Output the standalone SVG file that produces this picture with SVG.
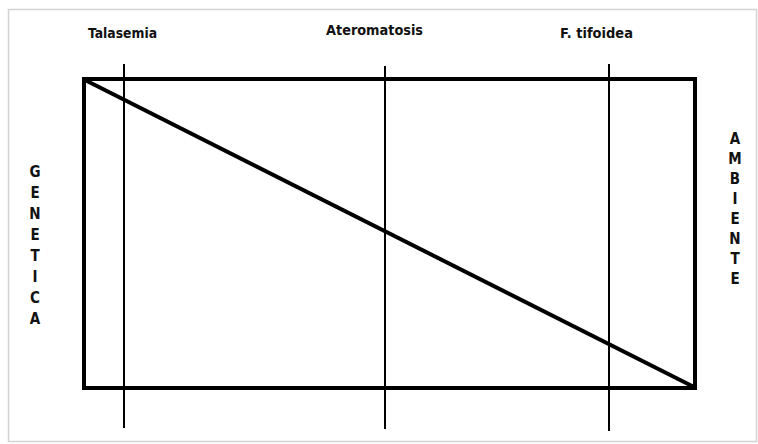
<svg xmlns="http://www.w3.org/2000/svg" width="758" height="444" viewBox="0 0 758 444">
<style>
.lbl{font-family:"DejaVu Sans Condensed","Liberation Sans",sans-serif;font-weight:bold;fill:#111;}
.vl{font-family:"DejaVu Sans Condensed","Liberation Sans",sans-serif;font-weight:bold;font-size:15px;fill:#111;text-anchor:middle;}
.thick{stroke:#000;stroke-width:4;fill:none;}
.thin{stroke:#000;stroke-width:2;fill:none;}
</style>
<rect width="758" height="444" fill="#fff"/>
<rect x="8.5" y="9.5" width="748" height="432" fill="none" stroke="#d4d4d4" stroke-width="1.5"/>
<g id="frame">
<rect class="thick" x="84" y="79" width="611" height="309"/>
</g>
<g id="connectors">
<line class="thick" x1="85" y1="80" x2="694" y2="387"/>
<line class="thin" x1="124" y1="64" x2="124" y2="428"/>
<line class="thin" x1="385" y1="66" x2="385" y2="429"/>
<line class="thin" x1="609" y1="64" x2="609" y2="431"/>
</g>
<g id="label-talasemia"><text class="lbl" x="88" y="38" font-size="14" textLength="69" lengthAdjust="spacingAndGlyphs">Talasemia</text></g>
<g id="label-ateromatosis"><text class="lbl" x="326" y="35" font-size="14" textLength="97" lengthAdjust="spacingAndGlyphs">Ateromatosis</text></g>
<g id="label-tifoidea"><text class="lbl" x="560" y="38" font-size="14" textLength="73" lengthAdjust="spacingAndGlyphs">F. tifoidea</text></g>
<g id="label-genetica">
<text class="vl" x="35" y="177">G</text>
<text class="vl" x="35" y="198">E</text>
<text class="vl" x="35" y="219">N</text>
<text class="vl" x="35" y="240">E</text>
<text class="vl" x="35" y="261">T</text>
<text class="vl" x="35" y="282">I</text>
<text class="vl" x="35" y="303">C</text>
<text class="vl" x="35" y="324">A</text>
</g>
<g id="label-ambiente">
<text class="vl" x="735" y="144">A</text>
<text class="vl" x="735" y="164">M</text>
<text class="vl" x="735" y="184">B</text>
<text class="vl" x="735" y="204">I</text>
<text class="vl" x="735" y="224">E</text>
<text class="vl" x="735" y="244">N</text>
<text class="vl" x="735" y="264">T</text>
<text class="vl" x="735" y="284">E</text>
</g>
</svg>
